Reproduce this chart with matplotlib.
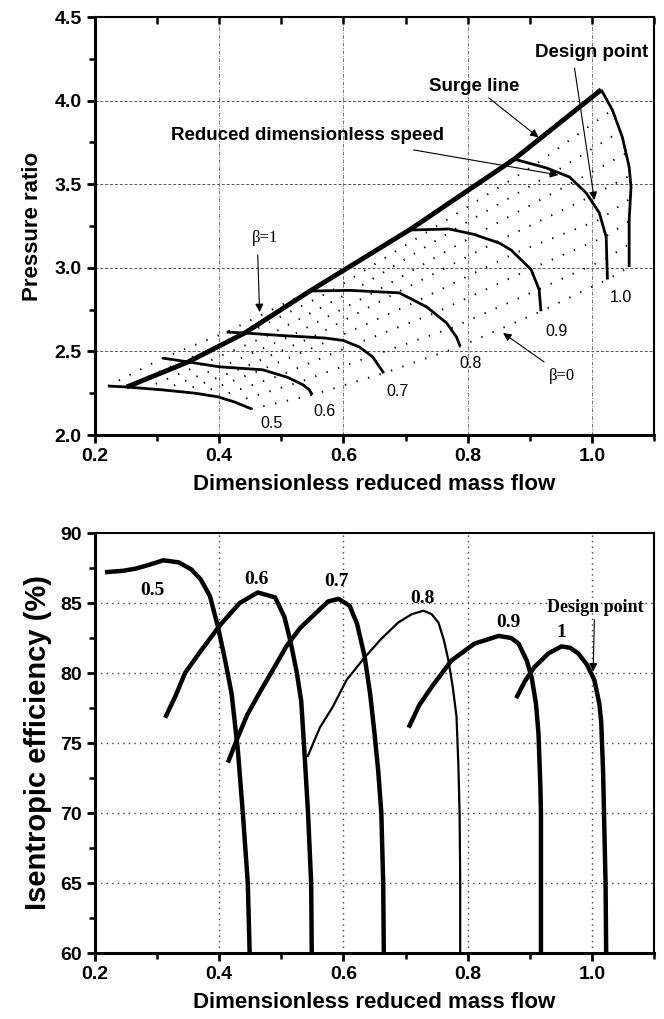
import matplotlib
matplotlib.use("Agg")
import matplotlib.pyplot as plt
from matplotlib.ticker import MultipleLocator

# ---- top: pressure ratio map ----
surge_x = [0.251, 0.35, 0.441, 0.546, 0.706, 0.875, 1.015]
surge_y = [2.287, 2.437, 2.61, 2.861, 3.226, 3.65, 4.065]

speed_lines = {
    "0.5": ([0.221, 0.251, 0.308, 0.361, 0.398, 0.425, 0.452],
            [2.293, 2.287, 2.27, 2.25, 2.228, 2.197, 2.156]),
    "0.6": ([0.309, 0.35, 0.40, 0.47, 0.51, 0.535, 0.545, 0.55],
            [2.46, 2.437, 2.408, 2.39, 2.345, 2.30, 2.27, 2.24]),
    "0.7": ([0.412, 0.441, 0.50, 0.57, 0.60, 0.626, 0.647, 0.665],
            [2.616, 2.61, 2.595, 2.58, 2.565, 2.526, 2.467, 2.37]),
    "0.8": ([0.546, 0.61, 0.69, 0.734, 0.766, 0.782, 0.788],
            [2.861, 2.865, 2.85, 2.766, 2.67, 2.586, 2.53]),
    "0.9": ([0.706, 0.77, 0.81, 0.851, 0.87, 0.902, 0.915, 0.918],
            [3.226, 3.232, 3.20, 3.148, 3.106, 2.99, 2.87, 2.74]),
    "0.95": ([0.875, 0.927, 0.964, 0.991, 1.012, 1.023, 1.025],
             [3.65, 3.597, 3.543, 3.447, 3.328, 3.184, 2.93]),
    "1.0": ([1.015, 1.033, 1.049, 1.06, 1.063, 1.06, 1.06],
            [4.065, 3.944, 3.782, 3.603, 3.483, 3.286, 3.005]),
}

# beta lines, from beta=1 (first) to beta=0 (last)
beta_x = [
    [0.221, 0.309, 0.412, 0.546, 0.706, 0.875, 1.015],
    [0.250, 0.341, 0.4465, 0.581, 0.7416, 0.9085, 1.033],
    [0.280, 0.3725, 0.481, 0.616, 0.777, 0.941, 1.046],
    [0.309, 0.403, 0.515, 0.651, 0.812, 0.972, 1.055],
    [0.339, 0.4355, 0.549, 0.685, 0.8455, 0.995, 1.061],
    [0.368, 0.467, 0.5835, 0.717, 0.875, 1.013, 1.062],
    [0.397, 0.499, 0.617, 0.746, 0.901, 1.0225, 1.06],
    [0.425, 0.528, 0.645, 0.7745, 0.915, 1.024, 1.06],
    [0.452, 0.55, 0.665, 0.788, 0.918, 1.025, 1.06],
]
beta_y = [
    [2.293, 2.46, 2.616, 2.861, 3.226, 3.65, 4.065],
    [2.287, 2.442, 2.609, 2.863, 3.23, 3.616, 3.945],
    [2.278, 2.424, 2.600, 2.864, 3.226, 3.575, 3.817],
    [2.270, 2.407, 2.592, 2.857, 3.197, 3.516, 3.685],
    [2.259, 2.398, 2.584, 2.850, 3.154, 3.421, 3.551],
    [2.246, 2.389, 2.574, 2.798, 3.086, 3.289, 3.415],
    [2.227, 2.358, 2.541, 2.728, 2.993, 3.188, 3.278],
    [2.197, 2.315, 2.472, 2.641, 2.872, 3.056, 3.142],
    [2.156, 2.24, 2.37, 2.53, 2.74, 2.93, 3.005],
]

speed_labels = ["0.5", "0.6", "0.7", "0.8", "0.9", "1.0"]
speed_label_x = [0.484, 0.57, 0.687, 0.804, 0.943, 1.047]
speed_label_y = [2.07, 2.14, 2.26, 2.43, 2.62, 2.82]

# ---- bottom: efficiency ----
eff_lines = {
    "0.5": ([0.216, 0.245, 0.265, 0.285, 0.31, 0.335, 0.355, 0.37, 0.385, 0.398,
             0.41, 0.42, 0.43, 0.438, 0.446, 0.449],
            [87.2, 87.3, 87.45, 87.7, 88.05, 87.9, 87.4, 86.7, 85.5, 83.3,
             80.8, 78.5, 74.5, 70, 65, 60]),
    "0.6": ([0.313, 0.33, 0.345, 0.369, 0.401, 0.433, 0.462, 0.49, 0.505, 0.515,
             0.525, 0.532, 0.537, 0.543, 0.548, 0.549],
            [76.8, 78.4, 80.0, 81.5, 83.4, 85.0, 85.75, 85.4, 84.0, 82.2,
             80, 78, 74.5, 70, 65, 60]),
    "0.7": ([0.414, 0.428, 0.445, 0.465, 0.49, 0.508, 0.53, 0.556, 0.575, 0.592,
             0.61, 0.622, 0.634, 0.643, 0.65, 0.656, 0.661, 0.664, 0.665],
            [73.6, 75.2, 77.0, 78.6, 80.5, 81.9, 83.2, 84.3, 85.1, 85.3,
             84.8, 83.5, 81.2, 78.5, 75.7, 73, 70, 65, 60]),
    "0.8": ([0.542, 0.562, 0.583, 0.605, 0.634, 0.66, 0.688, 0.71, 0.729, 0.742,
             0.753, 0.762, 0.769, 0.776, 0.782, 0.785, 0.787, 0.788, 0.788],
            [74.0, 76.1, 77.6, 79.5, 81.1, 82.4, 83.6, 84.2, 84.45, 84.2,
             83.6, 82.3, 80.9, 79, 76.9, 73.5, 70, 65, 60]),
    "0.9": ([0.705, 0.722, 0.742, 0.774, 0.811, 0.85, 0.87, 0.882, 0.895, 0.903,
             0.91, 0.914, 0.917, 0.918, 0.918, 0.918],
            [76.1, 77.7, 79.0, 80.9, 82.1, 82.65, 82.5, 82.1, 80.9, 79.7,
             77.8, 75.7, 72, 70, 65, 60]),
    "1": ([0.878, 0.892, 0.907, 0.93, 0.951, 0.965, 0.978, 0.992, 1.004, 1.012,
           1.015, 1.018, 1.02, 1.022, 1.023],
          [78.2, 79.4, 80.4, 81.4, 81.9, 81.8, 81.4, 80.6, 79.5, 77.8,
           76.5, 73, 69.0, 65, 60]),
}
eff_label_x = [0.293, 0.46, 0.588, 0.727, 0.866, 0.951]
eff_label_y = [85.9, 86.7, 86.5, 85.3, 83.6, 82.9]

sans = ["Liberation Sans", "DejaVu Sans"]
serif = ["Liberation Serif", "DejaVu Serif"]

fig = plt.figure(figsize=(6.64, 10.19), dpi=100)
ax1 = fig.add_axes([95 / 664, 1 - 435 / 1019, 559 / 664, 418 / 1019])
ax2 = fig.add_axes([95 / 664, 1 - 953 / 1019, 559 / 664, 420 / 1019])


def style_axes(ax):
    ax.set_xlim(0.2, 1.1)
    ax.xaxis.set_major_locator(MultipleLocator(0.2))
    ax.xaxis.set_minor_locator(MultipleLocator(0.1))
    for s in ["left", "bottom"]:
        ax.spines[s].set_linewidth(2.2)
    for s in ["top", "right"]:
        ax.spines[s].set_linewidth(1.5)
    ax.tick_params(which="major", direction="out", length=6, width=2,
                   labelsize=14)
    ax.tick_params(which="minor", direction="out", length=4, width=1.8)
    for lab in ax.get_xticklabels() + ax.get_yticklabels():
        lab.set_fontfamily(sans)
        lab.set_fontweight("bold")


arrow = dict(arrowstyle="-|>", lw=0.8, color="k", mutation_scale=12,
             shrinkA=0, shrinkB=0)

# ---------- top ----------
ax1.set_ylim(2.0, 4.5)
ax1.yaxis.set_major_locator(MultipleLocator(0.5))
ax1.yaxis.set_minor_locator(MultipleLocator(0.25))
for xv in [0.4, 0.6, 0.8, 1.0]:
    ax1.axvline(xv, color="#777777", lw=0.7, ls=(0, (4, 1.5, 1, 1.5)), zorder=0)
for yv in [2.5, 3.0, 3.5, 4.0]:
    ax1.axhline(yv, color="#555555", lw=0.7, ls=(0, (3, 2)), zorder=0)

for bx, by in zip(beta_x, beta_y):
    ax1.plot(bx, by, color="k", lw=1.4, ls=(0, (0.7, 5.5)), zorder=1)
for name, (sx, sy) in speed_lines.items():
    ax1.plot(sx, sy, color="k", lw=2.0, solid_capstyle="butt",
             solid_joinstyle="round", zorder=2)
ax1.plot(surge_x, surge_y, color="k", lw=3.5, solid_capstyle="butt",
         solid_joinstyle="round", zorder=3)

for t, x, y in zip(speed_labels, speed_label_x, speed_label_y):
    ax1.text(x, y, t, ha="center", va="center", fontsize=11.5, family=sans)

ax1.annotate("Surge line", xy=(0.914, 3.78), xytext=(0.811, 4.033),
             arrowprops=arrow, ha="center", va="bottom", fontsize=13.5,
             fontweight="bold", family=sans)
ax1.annotate("", xy=(1.004, 3.405), xytext=(0.972, 4.195), arrowprops=arrow)
ax1.text(0.908, 4.29, "Design point", ha="left", va="center", fontsize=13.5,
         fontweight="bold", family=sans, clip_on=False)
ax1.annotate("", xy=(0.946, 3.555), xytext=(0.713, 3.705), arrowprops=arrow)
ax1.text(0.322, 3.794, "Reduced dimensionless speed", ha="left", va="center",
         fontsize=13.5, fontweight="bold", family=sans)
ax1.annotate("", xy=(0.465, 2.735), xytext=(0.462, 3.077), arrowprops=arrow)
ax1.text(0.473, 3.178, "β=1", ha="center", va="center", fontsize=12,
         family=serif)
ax1.annotate("", xy=(0.857, 2.61), xytext=(0.923, 2.437), arrowprops=arrow)
ax1.text(0.951, 2.35, "β=0", ha="center", va="center", fontsize=12,
         family=serif)

ax1.set_xlabel("Dimensionless reduced mass flow", fontsize=16,
               fontweight="bold", family=sans, labelpad=6)
ax1.set_ylabel("Pressure ratio", fontsize=16, fontweight="bold", family=sans,
               labelpad=8)
style_axes(ax1)
ax1.tick_params(axis="x", which="both", top=True)
# top ticks pointing inward
for tl in ax1.xaxis.get_major_ticks() + ax1.xaxis.get_minor_ticks():
    tl.tick2line.set_marker(3)
    tl.tick2line.set_markersize(5)
    tl.tick2line.set_markeredgewidth(1.8)

# ---------- bottom ----------
ax2.set_ylim(60, 90)
ax2.yaxis.set_major_locator(MultipleLocator(5))
ax2.yaxis.set_minor_locator(MultipleLocator(2.5))
for xv in [0.4, 0.6, 0.8, 1.0]:
    ax2.axvline(xv, color="#444444", lw=1.0, ls=(0, (1, 3)), zorder=0)
for yv in [65, 70, 75, 80, 85]:
    ax2.axhline(yv, color="#444444", lw=1.0, ls=(0, (1, 3)), zorder=0)

for name, (ex, ey) in eff_lines.items():
    lw = 1.6 if name == "0.8" else 3.2
    ax2.plot(ex, ey, color="k", lw=lw, solid_capstyle="butt",
             solid_joinstyle="round", zorder=2)

for t, x, y in zip(list(eff_lines.keys()), eff_label_x, eff_label_y):
    ax2.text(x, y, t, ha="center", va="center", fontsize=14,
             fontweight="bold", family=serif)
ax2.annotate("", xy=(1.002, 80.1), xytext=(1.004, 83.8), arrowprops=arrow)
ax2.text(1.006, 84.7, "Design point", ha="center", va="center", fontsize=13,
         fontweight="bold", family=serif)

ax2.set_xlabel("Dimensionless reduced mass flow", fontsize=16,
               fontweight="bold", family=sans, labelpad=6)
ax2.set_ylabel("Isentropic efficiency (%)", fontsize=21, fontweight="bold",
               family=sans, labelpad=6)
style_axes(ax2)

fig.savefig("out.png", dpi=100)
